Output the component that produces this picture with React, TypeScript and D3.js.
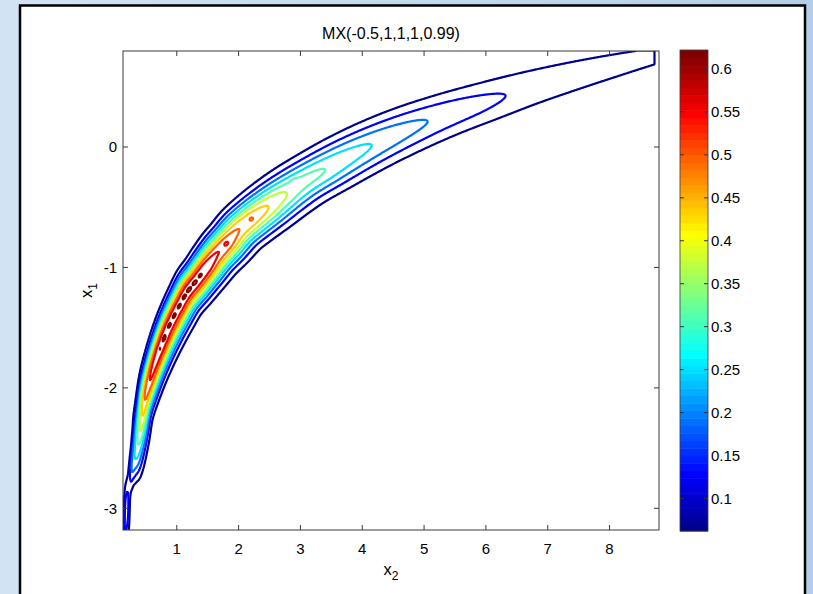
import React, { useMemo } from "react";
import * as d3 from "d3";

// ---------- data ----------
const TITLE = "MX(-0.5,1,1,1,0.99)";
const X_TICKS = [1, 2, 3, 4, 5, 6, 7, 8];
const Y_TICKS = [-3, -2, -1, 0];
const CBAR_TICKS = [0.1, 0.15, 0.2, 0.25, 0.3, 0.35, 0.4, 0.45, 0.5, 0.55, 0.6];
const X_DOMAIN = [0.13, 8.8];
const Y_DOMAIN = [-3.18, 0.797];
const FIELD_X2 = [0.13, 8.72];
const LEVELS = [0.0622, 0.1244, 0.1866, 0.2488, 0.311, 0.3732, 0.4354, 0.4976, 0.5598, 0.622];

// ridge of the density (x2, x1), peak density on it, and spread across it
// (spread measured in (ln x2, x1) units, on the upper-left / lower-right side)
const RIDGE_X2 = [0.16, 0.19, 0.23, 0.27, 0.31, 0.36, 0.42, 0.485, 0.594, 0.756, 0.89, 1.024, 1.16, 1.32, 1.484, 1.646, 1.807, 1.995, 2.21, 2.455, 2.91, 3.37, 4.1, 4.88, 5.6, 6.3, 7.1, 8.0, 8.9];
const RIDGE_X1 = [-3.2, -3.0, -2.8, -2.68, -2.59, -2.48, -2.3, -2.09, -1.88, -1.635, -1.47, -1.335, -1.21, -1.108, -0.998, -0.89, -0.8, -0.69, -0.597, -0.5, -0.33, -0.19, 0.012, 0.19, 0.323, 0.44, 0.56, 0.68, 0.786];
const RIDGE_PEAK = [0.12, 0.165, 0.105, 0.19, 0.24, 0.3, 0.4, 0.5, 0.575, 0.614, 0.614, 0.614, 0.614, 0.614, 0.604, 0.565, 0.545, 0.5, 0.478, 0.44, 0.35, 0.313, 0.252, 0.196, 0.158, 0.124, 0.1, 0.081, 0.068];
const SPREAD_UP = [0.17, 0.17, 0.12, 0.11, 0.14, 0.17, 0.16, 0.141, 0.128, 0.118, 0.112, 0.11, 0.109, 0.108, 0.108, 0.107, 0.106, 0.105, 0.105, 0.105, 0.103, 0.101, 0.099, 0.098, 0.097, 0.096, 0.095, 0.094, 0.093];
const SPREAD_DOWN = [0.17, 0.17, 0.12, 0.11, 0.14, 0.17, 0.16, 0.14, 0.136, 0.134, 0.132, 0.126, 0.12, 0.116, 0.114, 0.113, 0.112, 0.111, 0.11, 0.109, 0.107, 0.105, 0.102, 0.1, 0.098, 0.096, 0.095, 0.094, 0.093];

// small local maxima (dots / rings) seen along the ridge
const SPOT_X2 = [0.72, 0.8, 0.88, 0.96, 1.04, 1.12, 1.2, 1.29, 1.38, 1.47, 1.807, 2.21, 2.92];
const SPOT_X1 = [-1.68, -1.59, -1.48, -1.4, -1.32, -1.245, -1.185, -1.125, -1.065, -1.005, -0.797, -0.594, -0.29];
const SPOT_GAIN = [0.014, 0.014, 0.014, 0.014, 0.014, 0.014, 0.014, 0.014, 0.014, 0.014, 0.022, 0.026, 0.032];

// ---------- layout ----------
const W = 813, H = 594;
const PLOT = { left: 123, right: 659, top: 51, bottom: 530 };
const CB = { left: 680, right: 708, top: 50, bottom: 531 };
const FONT = "'Liberation Sans', Arial, Helvetica, sans-serif";

function jetColor(i: number) {
  const u = (k: number) => (k < 1 || k > 47 ? 0 : k <= 16 ? k / 16 : k <= 31 ? 1 : (48 - k) / 16);
  const r = u(i - 24), g = u(i - 8), b = u(i + 8);
  return d3.rgb(Math.round(r * 255), Math.round(g * 255), Math.round(b * 255)).formatHex();
}
const cmin = LEVELS[0], cmax = LEVELS[LEVELS.length - 1];
const colorOf = (v: number) => jetColor(Math.min(64, Math.floor(((v - cmin) / (cmax - cmin)) * 64 + 1e-9) + 1));

function useContours() {
  return useMemo(() => {
    const x = d3.scaleLinear().domain(X_DOMAIN).range([PLOT.left, PLOT.right]);
    const y = d3.scaleLinear().domain(Y_DOMAIN).range([PLOT.bottom, PLOT.top]);
    const n = RIDGE_X2.length;
    // model space: (ln x2, x1)
    const ku = RIDGE_X2.map((v) => Math.log(v));
    const kv = RIDGE_X1;
    const cr = (arr: number[], i: number, t: number) => {
      const p0 = arr[Math.max(0, i - 1)], p1 = arr[i], p2 = arr[Math.min(n - 1, i + 1)], p3 = arr[Math.min(n - 1, i + 2)];
      const t2 = t * t, t3 = t2 * t;
      return 0.5 * (2 * p1 + (-p0 + p2) * t + (2 * p0 - 5 * p1 + 4 * p2 - p3) * t2 + (-p0 + 3 * p1 - 3 * p2 + p3) * t3);
    };
    const SUB = 16;
    const P: number[][] = [];
    for (let i = 0; i < n - 1; i++) {
      for (let s = 0; s < SUB; s++) {
        const t = s / SUB;
        P.push([cr(ku, i, t), cr(kv, i, t), Math.max(0, cr(RIDGE_PEAK, i, t)), Math.max(0.01, cr(SPREAD_UP, i, t)), Math.max(0.01, cr(SPREAD_DOWN, i, t))]);
      }
    }
    P.push([ku[n - 1], kv[n - 1], RIDGE_PEAK[n - 1], SPREAD_UP[n - 1], SPREAD_DOWN[n - 1]]);
    const m = P.length;
    const delaunay = d3.Delaunay.from(P, (p) => p[0], (p) => p[1]);
    const spots = SPOT_X2.map((v, i) => [x(v), y(SPOT_X1[i]), SPOT_GAIN[i]]);
    const R = 2.6;

    const g = 1;
    const x0 = PLOT.left, y0 = PLOT.top;
    const x1g = x(FIELD_X2[1]);
    const nx = Math.round((x1g - x0) / g) + 1;
    const ny = Math.round((PLOT.bottom - y0) / g) + 1;
    const values = new Float64Array(nx * ny);
    let hint = 0;
    for (let j = 0; j < ny; j++) {
      const Y = y0 + j * g;
      const V = y.invert(Y);
      for (let i = 0; i < nx; i++) {
        const X = x0 + i * g;
        const U = Math.log(x.invert(X));
        const k = delaunay.find(U, V, hint);
        hint = k;
        let best = Infinity, bA = 0, bS = 1;
        for (let q = 0; q < 2; q++) {
          const a = q === 0 ? k - 1 : k, b = a + 1;
          if (a < 0 || b >= m) continue;
          const A = P[a], B = P[b];
          const vx = B[0] - A[0], vy = B[1] - A[1];
          const wx = U - A[0], wy = V - A[1];
          const L2 = vx * vx + vy * vy || 1e-12;
          let t = (wx * vx + wy * vy) / L2;
          t = Math.max(0, Math.min(1, t));
          const dx = U - (A[0] + t * vx), dy = V - (A[1] + t * vy);
          const d2 = dx * dx + dy * dy;
          if (d2 < best) {
            best = d2;
            bA = A[2] + t * (B[2] - A[2]);
            const cross = vx * wy - vy * wx; // > 0: upper-left side in model space
            bS = cross > 0 ? A[3] + t * (B[3] - A[3]) : A[4] + t * (B[4] - A[4]);
          }
        }
        let val = bA * Math.exp(-best / (2 * bS * bS));
        for (let s = 0; s < spots.length; s++) {
          const ddx = X - spots[s][0], ddy = Y - spots[s][1];
          if (Math.abs(ddx) > 12 || Math.abs(ddy) > 12) continue;
          val += spots[s][2] * Math.exp(-(ddx * ddx + ddy * ddy) / (2 * R * R));
        }
        values[j * nx + i] = val;
      }
    }
    const contours = d3.contours().size([nx, ny]).thresholds(LEVELS).smooth(true)(values as any);
    const proj = d3.geoIdentity().scale(g).translate([x0 - 0.5 * g, y0 - 0.5 * g]);
    const path = d3.geoPath(proj as any);
    return contours.map((c) => ({ value: c.value, d: path(c as any) || "" }));
  }, []);
}

export default function App() {
  const x = d3.scaleLinear().domain(X_DOMAIN).range([PLOT.left, PLOT.right]);
  const y = d3.scaleLinear().domain(Y_DOMAIN).range([PLOT.bottom, PLOT.top]);
  const cy = d3.scaleLinear().domain([cmin, cmax]).range([CB.bottom, CB.top]);
  const contours = useContours();
  const bands = d3.range(64);
  const tl = 5;

  return (
    <svg width={W} height={H} style={{ position: "absolute", left: 0, top: 0 }} fontFamily={FONT}>
      <defs>
        <linearGradient id="bg" x1="0" y1="0" x2="1" y2="0">
          <stop offset="0" stopColor="#d2e4f4" />
          <stop offset="1" stopColor="#b4cee9" />
        </linearGradient>
        <clipPath id="plotclip">
          <rect x={PLOT.left} y={PLOT.top} width={PLOT.right - PLOT.left} height={PLOT.bottom - PLOT.top} />
        </clipPath>
      </defs>
      <rect x={0} y={0} width={W} height={H} fill="url(#bg)" />
      <rect x={20} y={5.5} width={785} height={640} fill="#ffffff" stroke="#000" strokeWidth={2.5} />

      <text x={(PLOT.left + PLOT.right) / 2} y={39} textAnchor="middle" fontSize={16} fill="#000">{TITLE}</text>

      <g clipPath="url(#plotclip)">
        {contours.map((c, i) => (
          <path key={i} d={c.d} fill="none" stroke={colorOf(c.value)} strokeWidth={2.2} strokeLinejoin="round" />
        ))}
      </g>

      {/* axes box */}
      <rect x={PLOT.left} y={PLOT.top} width={PLOT.right - PLOT.left} height={PLOT.bottom - PLOT.top} fill="none" stroke="#3a3a3a" strokeWidth={1} />
      {X_TICKS.map((t) => (
        <g key={"xt" + t}>
          <line x1={x(t)} x2={x(t)} y1={PLOT.bottom} y2={PLOT.bottom - tl} stroke="#3a3a3a" />
          <line x1={x(t)} x2={x(t)} y1={PLOT.top} y2={PLOT.top + tl} stroke="#3a3a3a" />
          <text x={x(t)} y={554} textAnchor="middle" fontSize={15} fill="#000">{t}</text>
        </g>
      ))}
      {Y_TICKS.map((t) => (
        <g key={"yt" + t}>
          <line x1={PLOT.left} x2={PLOT.left + tl} y1={y(t)} y2={y(t)} stroke="#3a3a3a" />
          <line x1={PLOT.right} x2={PLOT.right - tl} y1={y(t)} y2={y(t)} stroke="#3a3a3a" />
          <text x={117} y={y(t)} dy="0.36em" textAnchor="end" fontSize={15} fill="#000">{t < 0 ? "-" + Math.abs(t) : String(t)}</text>
        </g>
      ))}
      <text x={(PLOT.left + PLOT.right) / 2} y={575} textAnchor="middle" fontSize={16.5} fill="#000">
        x<tspan fontSize={12} dy={5}>2</tspan>
      </text>
      <text transform={`translate(92,${(PLOT.top + PLOT.bottom) / 2}) rotate(-90)`} textAnchor="middle" fontSize={16.5} fill="#000">
        x<tspan fontSize={12} dy={5}>1</tspan>
      </text>

      {/* colorbar */}
      {bands.map((i) => {
        const v0 = cmin + ((cmax - cmin) * i) / 64;
        const v1 = cmin + ((cmax - cmin) * (i + 1)) / 64;
        return (
          <rect key={"cb" + i} x={CB.left} width={CB.right - CB.left} y={cy(v1)} height={cy(v0) - cy(v1) + 0.5} fill={jetColor(i + 1)} />
        );
      })}
      <rect x={CB.left} y={CB.top} width={CB.right - CB.left} height={CB.bottom - CB.top} fill="none" stroke="#3a3a3a" strokeWidth={0.8} />
      {CBAR_TICKS.map((t) => (
        <g key={"ct" + t}>
          <line x1={CB.left} x2={CB.left + 4} y1={cy(t)} y2={cy(t)} stroke="#333" />
          <line x1={CB.right} x2={CB.right - 4} y1={cy(t)} y2={cy(t)} stroke="#333" />
          <text x={711} y={cy(t)} dy="0.36em" fontSize={15} fill="#000">{String(t)}</text>
        </g>
      ))}
    </svg>
  );
}
